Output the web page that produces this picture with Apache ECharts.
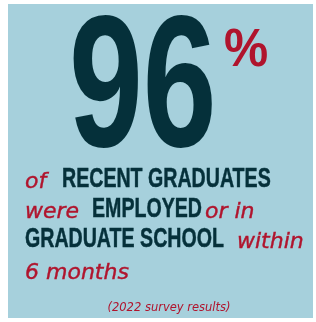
<!DOCTYPE html>
<html>
<head>
<meta charset="utf-8">
<script src="https://cdn.jsdelivr.net/npm/echarts@6/dist/echarts.min.js"></script>
<style>
html, body { margin: 0; padding: 0; background: #fff; }
#demo { width: 316px; height: 322px; }
</style>
</head>
<body>
<div id="demo"></div>
<script>
// headline figure
var bigValue = '96';
var bigUnit = '%';
// text rows, each piece marked as bold caps (b) or red italic (i)
var line1 = [['i', 'of'], ['b', 'RECENT GRADUATES']];
var line2 = [['i', 'were'], ['b', 'EMPLOYED'], ['i', 'or in']];
var line3 = [['b', 'GRADUATE SCHOOL'], ['i', 'within']];
var line4 = [['i', '6 months']];
var footNote = '(2022 survey results)';

var dark = '#05303a';
var red = '#b0142d';
var bg = '#a6d0dc';

window.onload = function() {
    var myCharts = echarts.init(document.getElementById('demo'));

    // x start of every piece, one array per row
    var xs = [[25, 62], [25, 92, 205], [25, 237], [25]];
    var ys = [179, 209, 239, 270]; // middle of caps in each row
    var rows = [line1, line2, line3, line4];

    var els = [{
        type: 'rect',
        shape: { x: 8, y: 4, width: 305, height: 314 },
        style: { fill: bg },
        silent: true
    }, {
        type: 'text',
        x: 69, y: 94,
        scaleX: 0.71,
        style: {
            text: bigValue, x: 0, y: 0,
            fill: dark, font: 'bold 187px "Liberation Sans"',
            align: 'left', verticalAlign: 'middle', lineHeight: 187
        }
    }, {
        type: 'text',
        x: 224, y: 51,
        scaleX: 0.92,
        style: {
            text: bigUnit, x: 0, y: 0,
            fill: red, font: 'bold 54px "Liberation Sans"',
            align: 'left', verticalAlign: 'middle', lineHeight: 54
        }
    }];

    rows.forEach(function(row, r) {
        row.forEach(function(p, k) {
            var bold = p[0] === 'b';
            els.push({
                type: 'text',
                x: xs[r][k], y: ys[r] + (bold ? 0 : 3),
                scaleX: bold ? 0.7 : 1,
                style: {
                    text: p[1], x: 0, y: 0,
                    fill: bold ? dark : red,
                    stroke: bold ? dark : red,
                    lineWidth: bold ? 0.5 : 0.4,
                    font: bold ? 'bold 28px "Liberation Sans"' : 'oblique 22px "DejaVu Sans"',
                    align: 'left', verticalAlign: 'middle',
                    lineHeight: bold ? 28 : 22
                }
            });
        });
    });

    els.push({
        type: 'text',
        x: 169, y: 308,
        style: {
            text: footNote, x: 0, y: 0,
            fill: red, font: 'oblique 11.5px "DejaVu Sans"',
            align: 'center', verticalAlign: 'middle'
        }
    });

    myCharts.setOption({
        animation: false,
        graphic: { elements: els }
    });
};
</script>
</body>
</html>
